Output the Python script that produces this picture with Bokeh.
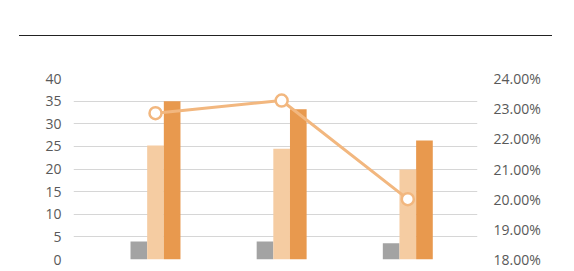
from bokeh.plotting import figure
from bokeh.models import (Range1d, LinearAxis, FixedTicker, NumeralTickFormatter,
                          ColumnDataSource, Div)
from bokeh.layouts import column
from bokeh.transform import dodge
from bokeh.embed import file_html
from bokeh.resources import INLINE

# Three groups, three bar series on the left axis and a rate line on the right axis
groups = [0, 1, 2]
series_gray = [4.0, 4.0, 3.6]
series_light = [25.2, 24.5, 19.9]
series_orange = [35.0, 33.2, 26.3]
rate_pct = [22.85, 23.27, 20.0]

left_ticks = [0, 5, 10, 15, 20, 25, 30, 35, 40]
right_ticks_pct = [18, 19, 20, 21, 22, 23, 24]

FONT = "Open Sans"
LABEL_COLOR = "#595959"
GRID_COLOR = "#d6d6d6"

src = ColumnDataSource(dict(
    x=groups,
    gray=series_gray,
    light=series_light,
    orange=series_orange,
    rate=[v / 100 for v in rate_pct],
))

bar_w = 0.132

p = figure(width=574, height=235, output_backend="svg", toolbar_location=None,
           x_range=Range1d(-0.650, 2.5525), y_range=Range1d(0, 40),
           min_border_left=73, min_border_right=97,
           min_border_top=42, min_border_bottom=12)
p.outline_line_color = None
p.background_fill_color = "white"
p.border_fill_color = "white"

p.extra_y_ranges = {"rate": Range1d(0.18, 0.24)}

# bars
p.vbar(x=dodge("x", -bar_w, range=p.x_range), top="gray", width=bar_w, source=src,
       fill_color="#a3a3a3", line_color=None)
p.vbar(x=dodge("x", 0, range=p.x_range), top="light", width=bar_w, source=src,
       fill_color="#f5cca2", line_color=None)
p.vbar(x=dodge("x", bar_w, range=p.x_range), top="orange", width=bar_w, source=src,
       fill_color="#e8994e", line_color=None)

# rate line with hollow markers
line_color = "#f2b77f"
p.line("x", "rate", source=src, y_range_name="rate", line_color=line_color, line_width=3)
p.scatter("x", "rate", source=src, y_range_name="rate", marker="circle", size=12,
          fill_color="white", line_color=line_color, line_width=2.5)

# axes
p.xaxis.visible = False
p.xgrid.visible = False

yl = p.yaxis[0]
yl.ticker = FixedTicker(ticks=left_ticks)
yl.axis_line_color = None
yl.major_tick_line_color = None
yl.minor_tick_line_color = None
yl.major_tick_out = 0
yl.major_label_standoff = 12
yl.major_label_text_font = FONT
yl.major_label_text_font_size = "14px"
yl.major_label_text_color = LABEL_COLOR

p.ygrid.ticker = FixedTicker(ticks=left_ticks)
p.ygrid.grid_line_color = GRID_COLOR
p.ygrid.grid_line_width = 1

yr = LinearAxis(y_range_name="rate",
                ticker=FixedTicker(ticks=[t / 100 for t in right_ticks_pct]),
                formatter=NumeralTickFormatter(format="0.00%"))
yr.axis_line_color = None
yr.major_tick_line_color = None
yr.minor_tick_line_color = None
yr.major_tick_out = 0
yr.major_label_standoff = 16
yr.major_label_text_font = FONT
yr.major_label_text_font_size = "14px"
yr.major_label_text_color = LABEL_COLOR
p.add_layout(yr, "right")

# rule across the top of the chart block
rule = Div(text="", width=533, height=1, margin=(35, 0, 0, 19),
           styles={"background-color": "#222222"})

layout = column(rule, p, spacing=0)

open("out.html", "w").write(file_html(layout, INLINE))
